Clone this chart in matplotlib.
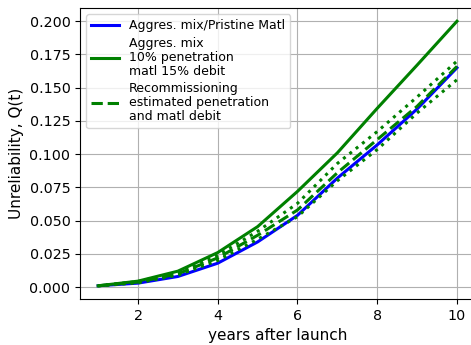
import matplotlib
matplotlib.use("Agg")
import matplotlib.pyplot as plt

years = [1, 2, 3, 4, 5, 6, 7, 8, 9, 10]
pristine = [0.001, 0.003, 0.008, 0.018, 0.034, 0.054, 0.082, 0.107, 0.134, 0.165]
penetration = [0.001, 0.0045, 0.012, 0.026, 0.0455, 0.072, 0.101, 0.1345, 0.167, 0.200]
recomm = [0.001, 0.0038, 0.010, 0.022, 0.039, 0.058, 0.086, 0.111, 0.136, 0.166]
recomm_upper = [0.001, 0.0042, 0.011, 0.024, 0.042, 0.063, 0.093, 0.117, 0.143, 0.170]
recomm_lower = [0.001, 0.0032, 0.009, 0.020, 0.036, 0.053, 0.080, 0.1035, 0.131, 0.156]

labels = ["Aggres. mix/Pristine Matl",
          "Aggres. mix\n10% penetration\nmatl 15% debit",
          "Recommissioning\nestimated penetration\nand matl debit"]

fig = plt.figure(figsize=(4.71, 3.45), dpi=100)
ax = fig.add_axes([0.1703, 0.1333, 0.838, 0.8435])

ax.plot(years, pristine, color="blue", lw=2.2, label=labels[0])
ax.plot(years, penetration, color="green", lw=2.2, label=labels[1])
ax.plot(years, recomm, color="green", lw=2.2, ls="--", label=labels[2])
ax.plot(years, recomm_upper, color="green", lw=2.2, ls=":")
ax.plot(years, recomm_lower, color="green", lw=2.2, ls=":")

ax.set_xticks([2, 4, 6, 8, 10])
ax.set_yticks([0.0, 0.025, 0.05, 0.075, 0.1, 0.125, 0.15, 0.175, 0.2])
ax.yaxis.set_major_formatter(matplotlib.ticker.FormatStrFormatter("%.3f"))
ax.tick_params(labelsize=10.3)
ax.set_xlabel("years after launch", fontsize=11)
ax.set_ylabel("Unreliability, Q(t)", fontsize=11)
ax.grid(True)
leg = ax.legend(loc="upper left", fontsize=9, handlelength=2.2,
                labelspacing=0.35, borderpad=0.4)
for t in leg.get_texts():
    t.set_linespacing(1.1)

fig.savefig("out.png", dpi=100)
